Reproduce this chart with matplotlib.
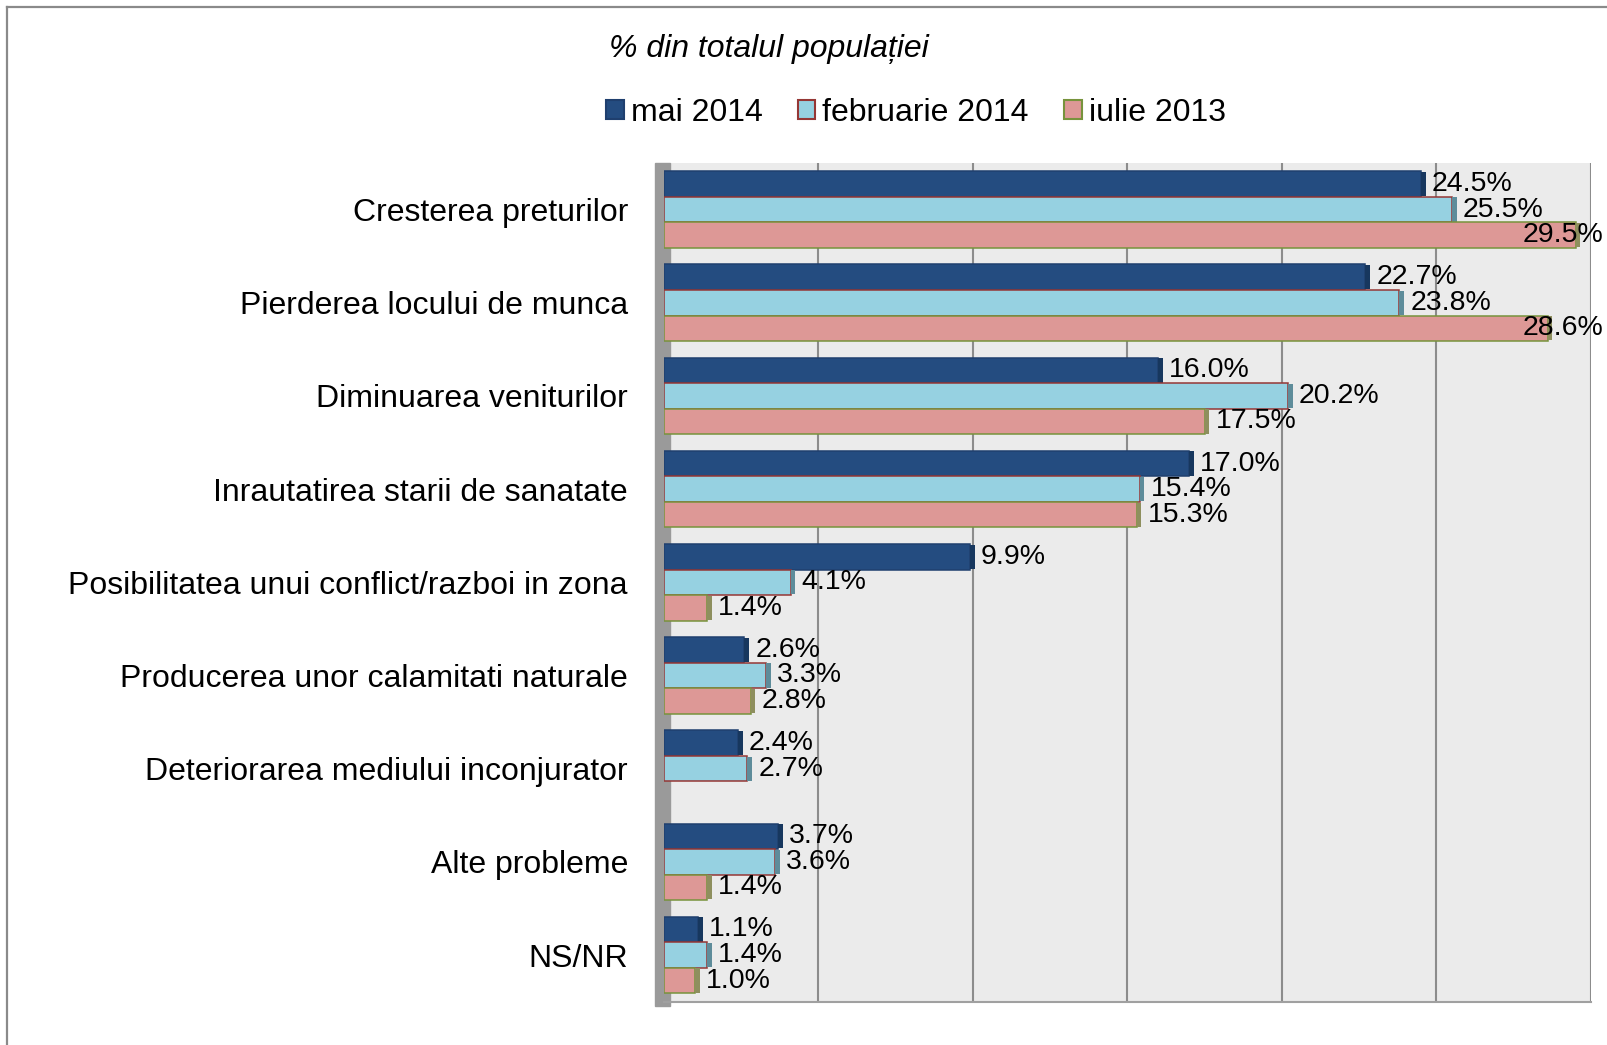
import numpy as np
import matplotlib.pyplot as plt
from matplotlib.patches import Patch, Rectangle
from matplotlib.lines import Line2D

plt.rcParams.update({'font.family': ['Liberation Sans', 'DejaVu Sans']})

# Data
categories = ["Cresterea preturilor", "Pierderea locului de munca",
              "Diminuarea veniturilor", "Inrautatirea starii de sanatate",
              "Posibilitatea unui conflict/razboi in zona",
              "Producerea unor calamitati naturale",
              "Deteriorarea mediului inconjurator", "Alte probleme", "NS/NR"]
series_names = ["mai 2014", "februarie 2014", "iulie 2013"]
mai_2014 = [24.5, 22.7, 16.0, 17.0, 9.9, 2.6, 2.4, 3.7, 1.1]
feb_2014 = [25.5, 23.8, 20.2, 15.4, 4.1, 3.3, 2.7, 3.6, 1.4]
iul_2013 = [29.5, 28.6, 17.5, 15.3, 1.4, 2.8, np.nan, 1.4, 1.0]

faces = ['#244C80', '#96D1E1', '#DD9896']
edges = ['#1F3F6E', '#953735', '#77933C']
caps = ['#17375E', '#5E8C9A', '#8E8F5E']

W, H = 1608, 1045
fig = plt.figure(figsize=(W / 100, H / 100), dpi=100)

# outer frame (runs off the right and bottom edges)
fig.add_artist(Line2D([7 / W, 1], [1 - 7 / H, 1 - 7 / H], color='#8A8A8A', lw=1.6))
fig.add_artist(Line2D([7 / W, 7 / W], [0, 1 - 7 / H], color='#8A8A8A', lw=1.6))

ax = fig.add_axes([664 / W, 1 - 1001.6 / H, (1591 - 664) / W, (1001.6 - 163) / H])
ax.set_facecolor('#EBEBEB')

y = np.arange(len(categories))
h = 0.274

# left side wall
ax.add_patch(Rectangle((-0.3, -0.5), 0.5, 9.05, color='#9A9A9A', clip_on=False, zorder=1))

for i, vals in enumerate([mai_2014, feb_2014, iul_2013]):
    pos = y + (i - 1) * h
    vals = np.array(vals)
    ok = ~np.isnan(vals)
    ax.barh(pos[ok], vals[ok], height=h, color=faces[i], edgecolor=edges[i],
            lw=1.1, zorder=3)
    # darker end face of the bars
    ax.barh(pos[ok], 0.15, left=vals[ok], height=h * 0.95, color=caps[i],
            lw=0, zorder=3)
    for p, v in zip(pos[ok], vals[ok]):
        ax.text(min(v + 0.35, 27.8), p, f"{v:.1f}%", va='center', ha='left',
                fontsize=20.5, zorder=5, clip_on=False)

ax.set_xlim(0, 30)
ax.set_ylim(8.5, -0.5)
ax.set_xticks(np.arange(0, 31, 5))
ax.xaxis.grid(True, color='#8C8C8C', lw=1.5)
ax.set_axisbelow(True)
ax.tick_params(axis='x', length=0, labelbottom=False)
ax.set_yticks(y, categories)
ax.tick_params(axis='y', length=0, pad=26, labelsize=23)
for s in ['top', 'left', 'right']:
    ax.spines[s].set_visible(False)
ax.spines['bottom'].set_color('#A0A0A0')
ax.spines['bottom'].set_linewidth(1.5)

# title and legend
fig.text(769 / W, 1 - 49 / H, "% din totalul populației", fontsize=23,
         style='italic', ha='center', va='center')
handles = [Patch(facecolor=faces[i], edgecolor=edges[i], lw=1.5, label=series_names[i])
           for i in range(3)]
fig.legend(handles=handles, loc='center', bbox_to_anchor=(916 / W, 1 - 113 / H),
           ncol=3, frameon=False, fontsize=23, handlelength=0.55, handleheight=0.55,
           handletextpad=0.22, columnspacing=1.1)

fig.savefig('out.png', dpi=100)
